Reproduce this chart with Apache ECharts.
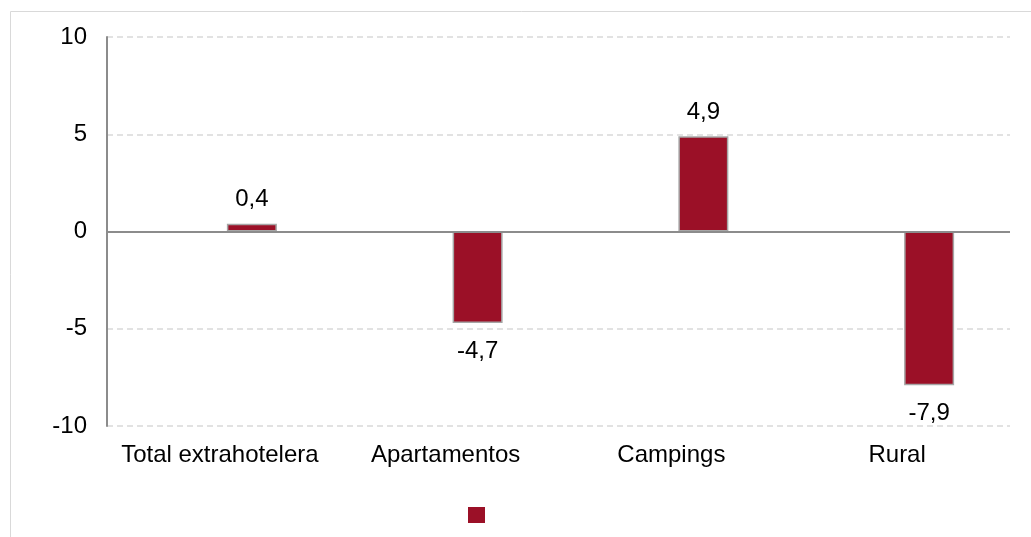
<!DOCTYPE html>
<html lang="es">
<head>
    <meta charset="UTF-8">
    <title>Extrahotelera</title>
    <style>
        body { margin: 0; overflow: hidden; background: #fff; }
        #chart { width: 1031px; height: 537px; }
    </style>
</head>
<body>
    <div id="chart"></div>
    <script src="https://cdn.jsdelivr.net/npm/echarts@6/dist/echarts.min.js"></script>
    <script>
        // datos
        var categories = ['Total extrahotelera', 'Apartamentos', 'Campings', 'Rural'];
        var values = [0.4, -4.7, 4.9, -7.9];
        var emptyValues = [null, null, null, null];

        var barColor = '#9b1027';

        function fmt(v) {
            return v.toFixed(1).replace('.', ',');
        }

        var barData = values.map(function (v) {
            return {
                value: v,
                label: { position: v < 0 ? 'bottom' : 'top', distance: v < 0 ? 16 : 12 }
            };
        });

        var myChart = echarts.init(document.getElementById('chart'));

        var option = {
            animation: false,
            textStyle: { fontFamily: 'Liberation Sans, Arial, sans-serif' },
            graphic: [{
                type: 'rect',
                shape: { x: 10.5, y: 11.5, width: 1100, height: 600 },
                style: { fill: 'none', stroke: '#d9d9d9', lineWidth: 1 },
                silent: true
            }],
            grid: { left: 107, right: 21, top: 37, bottom: 111 },
            legend: {
                left: 463,
                top: 502,
                itemWidth: 17,
                itemHeight: 16,
                icon: 'rect',
                selectedMode: false,
                itemStyle: { borderWidth: 0 },
                data: [' ']
            },
            xAxis: {
                type: 'category',
                data: categories,
                axisLine: { show: false, onZero: false },
                axisTick: { show: false },
                axisLabel: { color: '#000', fontSize: 24, margin: 17, interval: 0, hideOverlap: false }
            },
            yAxis: {
                type: 'value',
                min: -10,
                max: 10,
                interval: 5,
                axisLine: { show: true, lineStyle: { color: '#8c8c8c', width: 2 } },
                axisTick: { show: false },
                axisLabel: { color: '#000', fontSize: 24, margin: 20 },
                splitLine: { lineStyle: { color: '#d9d9d9', type: [6, 4], width: 1.5 } }
            },
            series: [
                {
                    name: 'aux',
                    type: 'bar',
                    data: emptyValues,
                    barWidth: 50,
                    barGap: '28%'
                },
                {
                    name: ' ',
                    type: 'bar',
                    data: barData,
                    barWidth: 50,
                    barGap: '28%',
                    itemStyle: { color: barColor, borderColor: '#a6a6a6', borderWidth: 1.5 },
                    label: {
                        show: true,
                        color: '#000',
                        fontSize: 24,
                        formatter: function (p) { return fmt(p.value); }
                    },
                    markLine: {
                        silent: true,
                        symbol: 'none',
                        label: { show: false },
                        lineStyle: { color: '#8c8c8c', type: 'solid', width: 2 },
                        data: [{ yAxis: 0 }]
                    },
                    z: 3
                }
            ]
        };

        myChart.setOption(option);
    </script>
</body>
</html>
